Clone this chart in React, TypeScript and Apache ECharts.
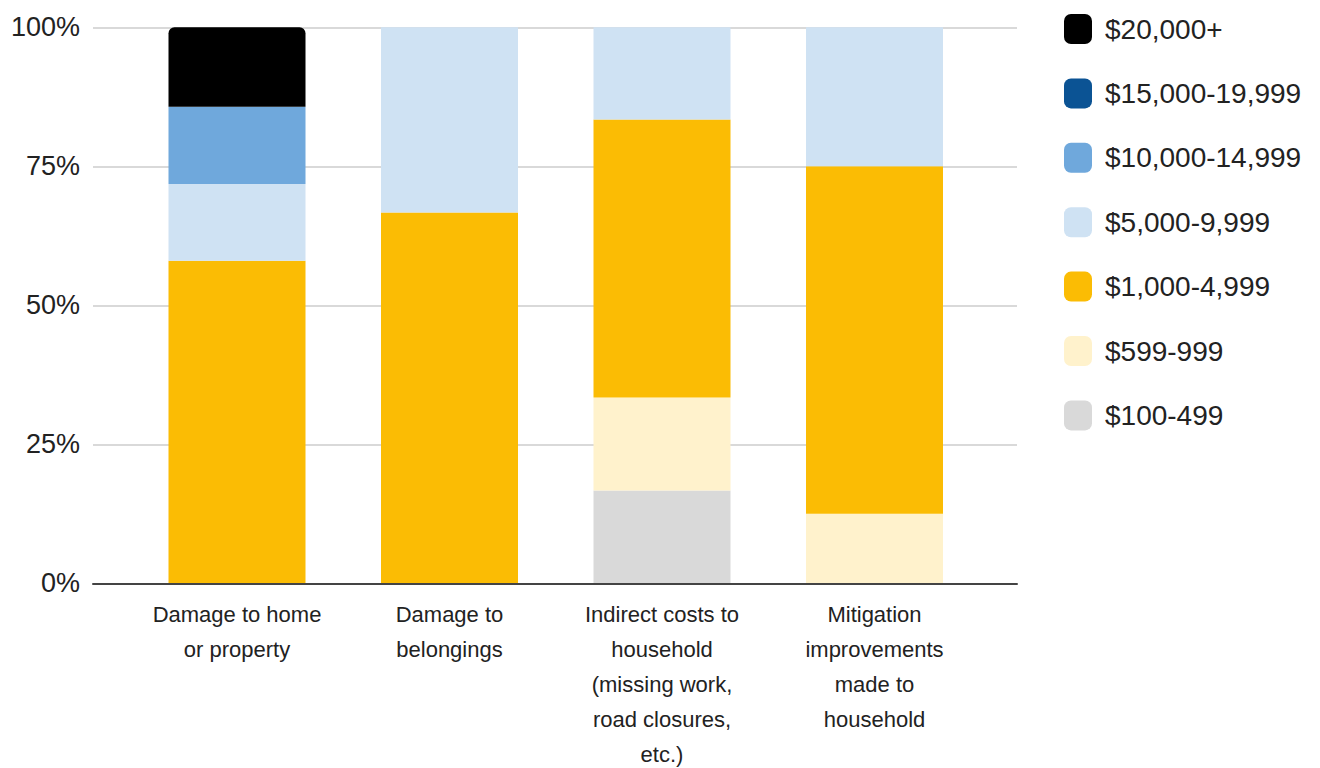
import React, { useEffect, useRef } from "react";
import * as echarts from "echarts";

// Spending categories (x axis)
const categories = [
  "Damage to home\nor property",
  "Damage to\nbelongings",
  "Indirect costs to\nhousehold\n(missing work,\nroad closures,\netc.)",
  "Mitigation\nimprovements\nmade to\nhousehold",
];

// Cost brackets, stacked from the bottom up
const brackets = [
  "$100-499",
  "$599-999",
  "$1,000-4,999",
  "$5,000-9,999",
  "$10,000-14,999",
  "$15,000-19,999",
  "$20,000+",
];

const bracketColors = [
  "#d9d9d9",
  "#fff2cc",
  "#fbbc04",
  "#cfe2f3",
  "#6fa8dc",
  "#0b5394",
  "#000000",
];

// Share of responses (%) per bracket, one value per category
const share100to499 = [0, 0, 16.7, 0];
const share599to999 = [0, 0, 16.7, 12.5];
const share1000to4999 = [58.0, 66.7, 50.0, 62.5];
const share5000to9999 = [13.8, 33.3, 16.6, 25.0];
const share10000to14999 = [13.9, 0, 0, 0];
const share15000to19999 = [0, 0, 0, 0];
const share20000plus = [14.3, 0, 0, 0];

const shares = [
  share100to499,
  share599to999,
  share1000to4999,
  share5000to9999,
  share10000to14999,
  share15000to19999,
  share20000plus,
];

// Legend lists the brackets from the highest down
const legendOrder = [...brackets].reverse();

const yTicks = [0, 25, 50, 75, 100];

const FONT = "'Liberation Sans', Arial, sans-serif";
const TEXT = "#222222";

export default function App() {
  const ref = useRef<HTMLDivElement>(null);

  useEffect(() => {
    if (!ref.current) return;
    const chart = echarts.init(ref.current, null, { renderer: "svg" });

    const series = brackets.map((name, i) => ({
      name,
      type: "bar" as const,
      stack: "total",
      xAxisIndex: 1,
      yAxisIndex: 1,
      barWidth: 137,
      data: shares[i],
      itemStyle: {
        color: bracketColors[i],
        borderRadius: name === "$20,000+" ? [6, 6, 0, 0] : 0,
      },
      emphasis: { disabled: true },
    }));

    chart.setOption({
      animation: false,
      backgroundColor: "#ffffff",
      textStyle: { fontFamily: FONT },
      // grid 0 carries the full-width gridlines and baseline,
      // grid 1 holds the bars in a slightly narrower band
      grid: [
        { left: 93, right: 303, top: 27.3, bottom: 184.7, outerBoundsMode: "none" },
        { left: 130.75, right: 339.25, top: 27.3, bottom: 184.7, outerBoundsMode: "none" },
      ],
      legend: {
        orient: "vertical",
        left: 1059,
        top: 9,
        data: legendOrder,
        icon: "roundRect",
        itemWidth: 28,
        itemHeight: 30,
        itemGap: 34.4,
        selectedMode: false,
        textStyle: {
          fontFamily: FONT,
          fontSize: 28,
          color: TEXT,
          lineHeight: 30,
          padding: [0, 0, 0, 8],
        },
      },
      xAxis: [
        {
          type: "value",
          gridIndex: 0,
          min: 0,
          max: 1,
          z: 10,
          axisLine: { show: true, lineStyle: { color: "#444444", width: 2 } },
          axisTick: { show: false },
          axisLabel: { show: false },
          splitLine: { show: false },
        },
        {
          type: "category",
          gridIndex: 1,
          data: categories,
          axisLine: { show: false },
          axisTick: { show: false },
          axisLabel: {
            margin: 14,
            fontFamily: FONT,
            fontSize: 22,
            lineHeight: 35,
            color: TEXT,
            align: "center",
            interval: 0,
          },
        },
      ],
      yAxis: [
        {
          type: "value",
          gridIndex: 0,
          min: yTicks[0],
          max: yTicks[yTicks.length - 1],
          interval: 25,
          axisLine: { show: false },
          axisTick: { show: false },
          axisLabel: {
            formatter: "{value}%",
            fontFamily: FONT,
            fontSize: 27,
            color: TEXT,
            margin: 13,
          },
          splitLine: { lineStyle: { color: "#cccccc", width: 1.5 } },
        },
        {
          type: "value",
          gridIndex: 1,
          min: 0,
          max: 100,
          show: false,
          splitLine: { show: false },
        },
      ],
      series,
    });

    return () => chart.dispose();
  }, []);

  return (
    <div
      ref={ref}
      style={{ position: "fixed", left: 0, top: 0, width: 1320, height: 768 }}
    />
  );
}
